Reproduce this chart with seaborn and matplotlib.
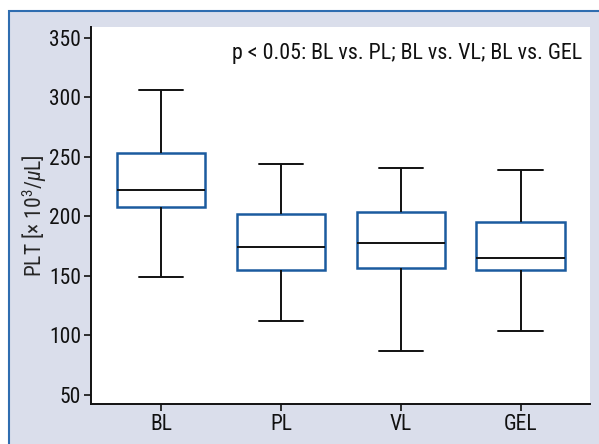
import numpy as np
import pandas as pd
import matplotlib.pyplot as plt
import matplotlib.patches as mpatches
import seaborn as sns

# five-number summaries: min, Q1, median, Q3, max
groups = ["BL", "PL", "VL", "GEL"]
bl = [149, 208, 222, 253, 306]
pl = [112, 155, 174, 202, 244]
vl = [87, 157, 178, 204, 241]
gel = [104, 155, 165, 195, 239]

df = pd.DataFrame({
    "group": np.repeat(groups, 5),
    "plt": bl + pl + vl + gel,
})

sns.set_style("ticks")
plt.rcParams["font.family"] = ["Roboto Condensed", "Archivo Narrow", "Liberation Sans", "DejaVu Sans"]
plt.rcParams["mathtext.fontset"] = "custom"
plt.rcParams["mathtext.rm"] = "Roboto Condensed"
plt.rcParams["mathtext.it"] = "Roboto Condensed:italic"

fig = plt.figure(figsize=(5.99, 4.44), dpi=100)
fig.patch.set_facecolor("white")
# shaded frame behind the plot
frame = mpatches.Rectangle((9 / 599, -0.01), 1.0, 1 - 11 / 444 + 0.01,
                           transform=fig.transFigure, facecolor="#dadeeb",
                           edgecolor="#2f6db0", linewidth=1.5, zorder=-10)
fig.patches.append(frame)

ax = fig.add_axes([91 / 599, 40 / 444, 499 / 599, 377 / 444])
ax.set_zorder(5)
ax.set_facecolor("white")

blue = "#1b5b9f"
sns.boxplot(data=df, x="group", y="plt", order=groups, whis=(0, 100),
            width=0.735, ax=ax, showfliers=False,
            boxprops=dict(facecolor="white", edgecolor=blue, linewidth=1.8),
            whiskerprops=dict(color="#111111", linewidth=1.4),
            capprops=dict(color="#111111", linewidth=1.4),
            medianprops=dict(color="#111111", linewidth=1.4))

ax.set_ylim(42.4, 359)
ax.set_xlim(-0.585, 3.58)
ax.set_yticks([50, 100, 150, 200, 250, 300, 350])
ax.set_xlabel("")
ax.set_ylabel("PLT [× 10$^3$/$\\mathit{\\mu}$L]", fontsize=15.5, labelpad=0)
ax.tick_params(axis="both", labelsize=15.5, length=5, width=1.2, colors="#111111", pad=2)
sns.despine(ax=ax)
for s in ["left", "bottom"]:
    ax.spines[s].set_linewidth(1.4)
    ax.spines[s].set_color("#111111")

ax.text(0.985, 0.958, "p < 0.05: BL vs. PL; BL vs. VL; BL vs. GEL",
        transform=ax.transAxes, ha="right", va="top", fontsize=15.8, color="#111111")

fig.savefig("out.png", dpi=100)
